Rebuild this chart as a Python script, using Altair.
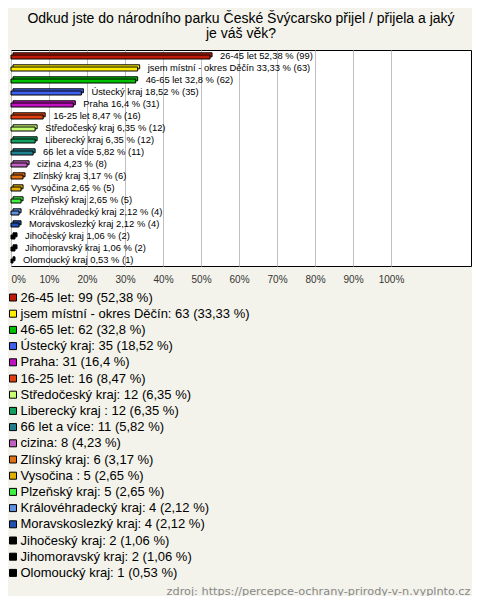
import altair as alt
import pandas as pd

categories = [
    "26-45 let", "jsem místní - okres Děčín", "46-65 let", "Ústecký kraj", "Praha",
    "16-25 let", "Středočeský kraj", "Liberecký kraj ", "66 let a více", "cizina",
    "Zlínský kraj", "Vysočina ", "Plzeňský kraj", "Královéhradecký kraj",
    "Moravskoslezký kraj", "Jihočeský kraj", "Jihomoravský kraj", "Olomoucký kraj",
]
counts = [99, 63, 62, 35, 31, 16, 12, 12, 11, 8, 6, 5, 5, 4, 4, 2, 2, 1]
percents = [52.38, 33.33, 32.8, 18.52, 16.4, 8.47, 6.35, 6.35, 5.82, 4.23,
            3.17, 2.65, 2.65, 2.12, 2.12, 1.06, 1.06, 0.53]
colors = [
    "#c01a08", "#ffee00", "#00c000", "#4060f0", "#c010c0", "#e04010", "#c8ff70",
    "#10a060", "#208090", "#c060c0", "#e07010", "#e0b000", "#40f040", "#6090e0",
    "#2050b0", "#000000", "#000000", "#000000",
]
tick_values = [0, 10, 20, 30, 40, 50, 60, 70, 80, 90, 100]
title_lines = ["Odkud jste do národního parku České Švýcarsko přijel / přijela a jaký", "je váš věk?"]
footer = "zdroj: https://percepce-ochrany-prirody-v-n.vyplnto.cz"

pct_txt = [str(p).replace(".", ",") for p in percents]
bar_labels = [f"{c} {p} % ({n})" for c, p, n in zip(categories, pct_txt, counts)]
legend_labels = [f"{c}: {n} ({p} %)" for c, p, n in zip(categories, pct_txt, counts)]

df = pd.DataFrame({
    "cat": categories,
    "pct": percents,
    "barlabel": bar_labels,
    "legend": legend_labels,
})

FONT = "Liberation Sans"

x_enc = alt.X(
    "pct:Q",
    scale=alt.Scale(domain=[0, 121.05], nice=False),
    axis=alt.Axis(
        values=tick_values, labelExpr="datum.value + '%'", grid=True,
        gridColor="#c0c0c0", domain=False, ticks=False, tickSize=0,
        labelPadding=8, labelFontSize=10, labelFont=FONT, labelColor="#333333",
        title=footer, titleAnchor="end", titleAlign="right", titleX=459, titleY=328,
        titleBaseline="alphabetic", titleFontWeight="normal", titleFontSize=11.3,
        titleFont="DejaVu Sans", titleColor="#888888",
    ),
)
y_enc = alt.Y("cat:N", sort=categories, axis=None,
              scale=alt.Scale(paddingInner=0, paddingOuter=0))
color_enc = alt.Color(
    "legend:N",
    scale=alt.Scale(domain=legend_labels, range=colors),
    title=None,
    legend=alt.Legend(
        orient="none", legendX=-4.5, legendY=241, symbolType="square", symbolSize=49,
        symbolStrokeColor="black", symbolStrokeWidth=1, labelFontSize=13,
        labelFont=FONT, labelColor="black", rowPadding=2.2, labelOffset=1,
        labelLimit=450, padding=0,
    ),
)

base = alt.Chart(df)
back = base.mark_bar(height=4, yOffset=-1.2, xOffset=2, x2Offset=2, stroke="black",
                     strokeWidth=1).encode(x=x_enc, y=y_enc, color=color_enc)
front = base.mark_bar(height=4, yOffset=1, stroke="black", strokeWidth=1).encode(
    x=x_enc, y=y_enc, color=color_enc)
text = base.mark_text(align="left", baseline="middle", dx=10, fontSize=9.4,
                      font=FONT, color="black").encode(
    x=alt.X("pct:Q"), y=alt.Y("cat:N", sort=categories), text="barlabel:N")

chart = alt.layer(back, front, text).properties(
    width=460, height=216,
    title=alt.TitleParams(text=title_lines, fontSize=14, font=FONT, fontWeight="normal",
                          anchor="middle", frame="group",
                          offset=9, lineHeight=15, color="black"),
    autosize=alt.AutoSizeParams(type="none"),
    padding={"left": 3, "top": 42, "right": 1, "bottom": 330},
    background="#f3f3eb",
).configure_view(stroke="black", strokeWidth=1, fill="white")

chart.save("out.html", embed_options={"renderer": "svg", "actions": False})
